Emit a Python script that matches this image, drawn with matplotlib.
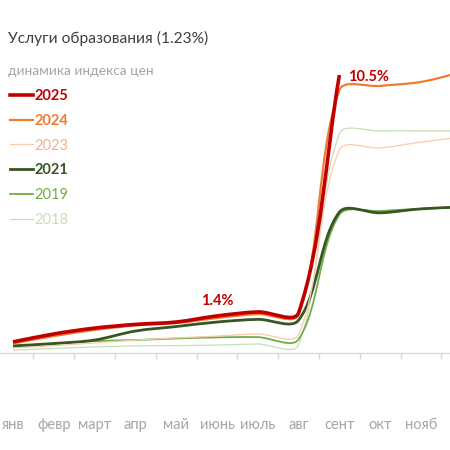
import numpy as np
import matplotlib
matplotlib.use('Agg')
import matplotlib.pyplot as plt
from matplotlib.path import Path
from matplotlib.patches import PathPatch
from matplotlib.lines import Line2D

plt.rcParams['font.family'] = ['Lato', 'Open Sans', 'DejaVu Sans']

months = ['янв', 'февр', 'март', 'апр', 'май', 'июнь', 'июль', 'авг', 'сент', 'окт', 'нояб', 'дек']

# накопленный рост цен с начала года, %
y2025 = [0.40, 0.70, 0.92, 1.06, 1.15, 1.38, 1.53, 1.50, 10.47]
y2024 = [0.34, 0.62, 0.85, 1.02, 1.11, 1.30, 1.45, 1.44, 9.90, 10.06, 10.21, 10.58]
y2023 = [0.17, 0.26, 0.36, 0.47, 0.55, 0.62, 0.70, 0.68, 7.65, 7.72, 7.94, 8.13]
y2021 = [0.25, 0.34, 0.47, 0.81, 0.98, 1.15, 1.25, 1.22, 5.30, 5.27, 5.42, 5.49]
y2019 = [0.21, 0.32, 0.43, 0.47, 0.53, 0.57, 0.58, 0.50, 5.20, 5.34, 5.42, 5.49]
y2018 = [0.09, 0.15, 0.21, 0.25, 0.26, 0.28, 0.32, 0.29, 8.25, 8.36, 8.36, 8.36]

series = [  # год, данные, цвет, толщина, жирная подпись
    ('2025', y2025, '#c00000', 2.6, True),
    ('2024', y2024, '#ed7d31', 1.6, True),
    ('2023', y2023, '#f8cbad', 0.9, False),
    ('2021', y2021, '#375623', 2.0, True),
    ('2019', y2019, '#70ad47', 1.3, False),
    ('2018', y2018, '#c5e0b4', 0.9, False),
]

W = H = 450
fig = plt.figure(figsize=(4.5, 4.5), dpi=100)
ax = fig.add_axes([0, 97.5 / H, 1, 352.5 / H])
xlim = (-13 / 40.8, (W - 13) / 40.8)
ylim = (0, 352.5 / 26.5)
sx = W / (xlim[1] - xlim[0])
sy = 352.5 / (ylim[1] - ylim[0])


def smooth_path(ys):
    # сглаженная линия как в Excel: кривые Безье через точки
    P = np.column_stack([np.arange(len(ys)) * sx, np.array(ys) * sy])
    n = len(P)
    verts, codes = [P[0]], [Path.MOVETO]
    for i in range(n - 1):
        p0 = P[i - 1] if i > 0 else P[i]
        p1, p2 = P[i], P[i + 1]
        p3 = P[i + 2] if i + 2 < n else P[i + 1]
        d01, d12, d23 = (np.hypot(*(b - a)) for a, b in [(p0, p1), (p1, p2), (p2, p3)])
        c1 = p1 + (p2 - p0) * d12 / (d01 + d12) / 3
        c2 = p2 - (p3 - p1) * d12 / (d12 + d23) / 3
        verts += [c1, c2, p2]
        codes += [Path.CURVE4] * 3
    verts = np.array(verts) / [sx, sy]
    return Path(verts, codes)


for name, ys, color, lw, bold in series[::-1]:
    ax.add_patch(PathPatch(smooth_path(ys), fill=False, ec=color, lw=lw,
                           capstyle='butt', joinstyle='round'))

for s in ['top', 'right', 'left']:
    ax.spines[s].set_visible(False)
ax.spines['bottom'].set_color('#d9d9d9')
ax.spines['bottom'].set_linewidth(1)
ax.set_yticks([])
ax.set_xticks(range(len(months)))
ax.set_xticklabels(months, color='#a6a6a6', fontsize=10.5)
ax.set_xticks(np.arange(len(months) + 1) - 0.5, minor=True)
ax.tick_params(axis='x', which='major', length=0, pad=47.5)
ax.tick_params(axis='x', which='minor', length=4, color='#d9d9d9', width=1)
ax.set_xlim(xlim)
ax.set_ylim(ylim)

ax.text(5, y2025[5] + 0.3, '1.4%', color='#c00000', fontsize=10.5, fontweight='bold',
        ha='center', va='bottom')
ax.text(8.2, y2025[8] - 0.08, '10.5%', color='#c00000', fontsize=10.5, fontweight='bold',
        ha='left', va='center')

fig.text(8 / W, 1 - 38 / H, 'Услуги образования (1.23%)', color='#404040', fontsize=11.2,
         va='center', ha='left')
fig.text(8 / W, 1 - 71 / H, 'динамика индекса цен', color='#a6a6a6', fontsize=9.9,
         va='center', ha='left')

handles = [Line2D([], [], color=c, lw=lw) for _, _, c, lw, _ in series]
leg = fig.legend(handles, [s[0] for s in series], loc='upper left',
                 bbox_to_anchor=(10 / W, 1 - 89 / H), frameon=False, fontsize=10.5,
                 handlelength=1.55, handletextpad=0.15, labelspacing=0.74,
                 borderpad=0, borderaxespad=0)
text_colors = ['#c00000', '#ed7d31', '#f4b183', '#375623', '#70ad47', '#c5e0b4']
for t, (name, ys, color, lw, bold), tc in zip(leg.get_texts(), series, text_colors):
    t.set_color(tc)
    if bold:
        t.set_fontweight('bold')

fig.savefig('out.png', dpi=100)
